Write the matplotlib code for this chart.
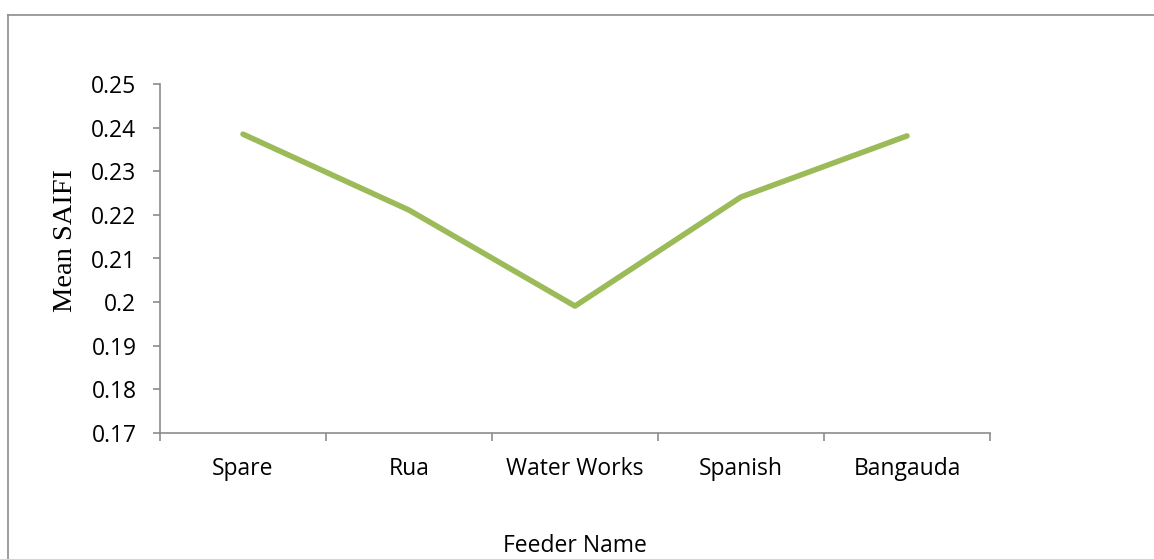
import matplotlib
matplotlib.use("Agg")
import matplotlib.pyplot as plt
from matplotlib.lines import Line2D

# mean SAIFI per feeder
feeders = ["Spare", "Rua", "Water Works", "Spanish", "Bangauda"]
mean_saifi = [0.2385, 0.2211, 0.1991, 0.2241, 0.2381]
y_ticks = [0.17, 0.18, 0.19, 0.2, 0.21, 0.22, 0.23, 0.24, 0.25]
y_tick_labels = ["0.17", "0.18", "0.19", "0.2", "0.21", "0.22", "0.23", "0.24", "0.25"]

W, H = 1154, 559
fig = plt.figure(figsize=(W / 100, H / 100), dpi=100)
ax = fig.add_axes([160 / W, 1 - 433 / H, 830 / W, 349 / H])

x = list(range(len(feeders)))
ax.plot(x, mean_saifi, color="#9BBB59", linewidth=4.0, solid_capstyle="round")

ax.set_xlim(-0.5, len(feeders) - 0.5)
ax.set_ylim(0.17, 0.25)
ax.set_yticks(y_ticks)
ax.set_yticklabels(y_tick_labels, fontfamily="Open Sans", fontsize=16.5)
ax.set_xticks(x)
ax.set_xticklabels(feeders, fontfamily="Open Sans", fontsize=16.5)

# category boundaries carry the x tick marks
ax.set_xticks([i - 0.5 for i in range(len(feeders) + 1)], minor=True)
ax.tick_params(axis="x", which="major", length=0, pad=17)
ax.tick_params(axis="x", which="minor", length=6, width=1.2, color="#8c8c8c")
ax.tick_params(axis="y", length=5, width=1.2, color="#8c8c8c", pad=12)

for s in ["top", "right"]:
    ax.spines[s].set_visible(False)
for s in ["left", "bottom"]:
    ax.spines[s].set_color("#8c8c8c")
    ax.spines[s].set_linewidth(1.2)

fig.text(66 / W, 1 - 241 / H, "Mean SAIFI", rotation=90, ha="center", va="center",
         fontfamily="Liberation Serif", fontsize=20.5)
fig.text(575 / W, 1 - 546 / H, "Feeder Name", ha="center", va="center",
         fontfamily="Open Sans", fontsize=16.5)

# outer chart frame
fig.add_artist(Line2D([8 / W, 8 / W], [0, 1 - 15 / H], transform=fig.transFigure,
                      color="#8c8c8c", linewidth=1.2))
fig.add_artist(Line2D([8 / W, 1], [1 - 15 / H, 1 - 15 / H], transform=fig.transFigure,
                      color="#8c8c8c", linewidth=1.2))

fig.savefig("out.png", dpi=100)
